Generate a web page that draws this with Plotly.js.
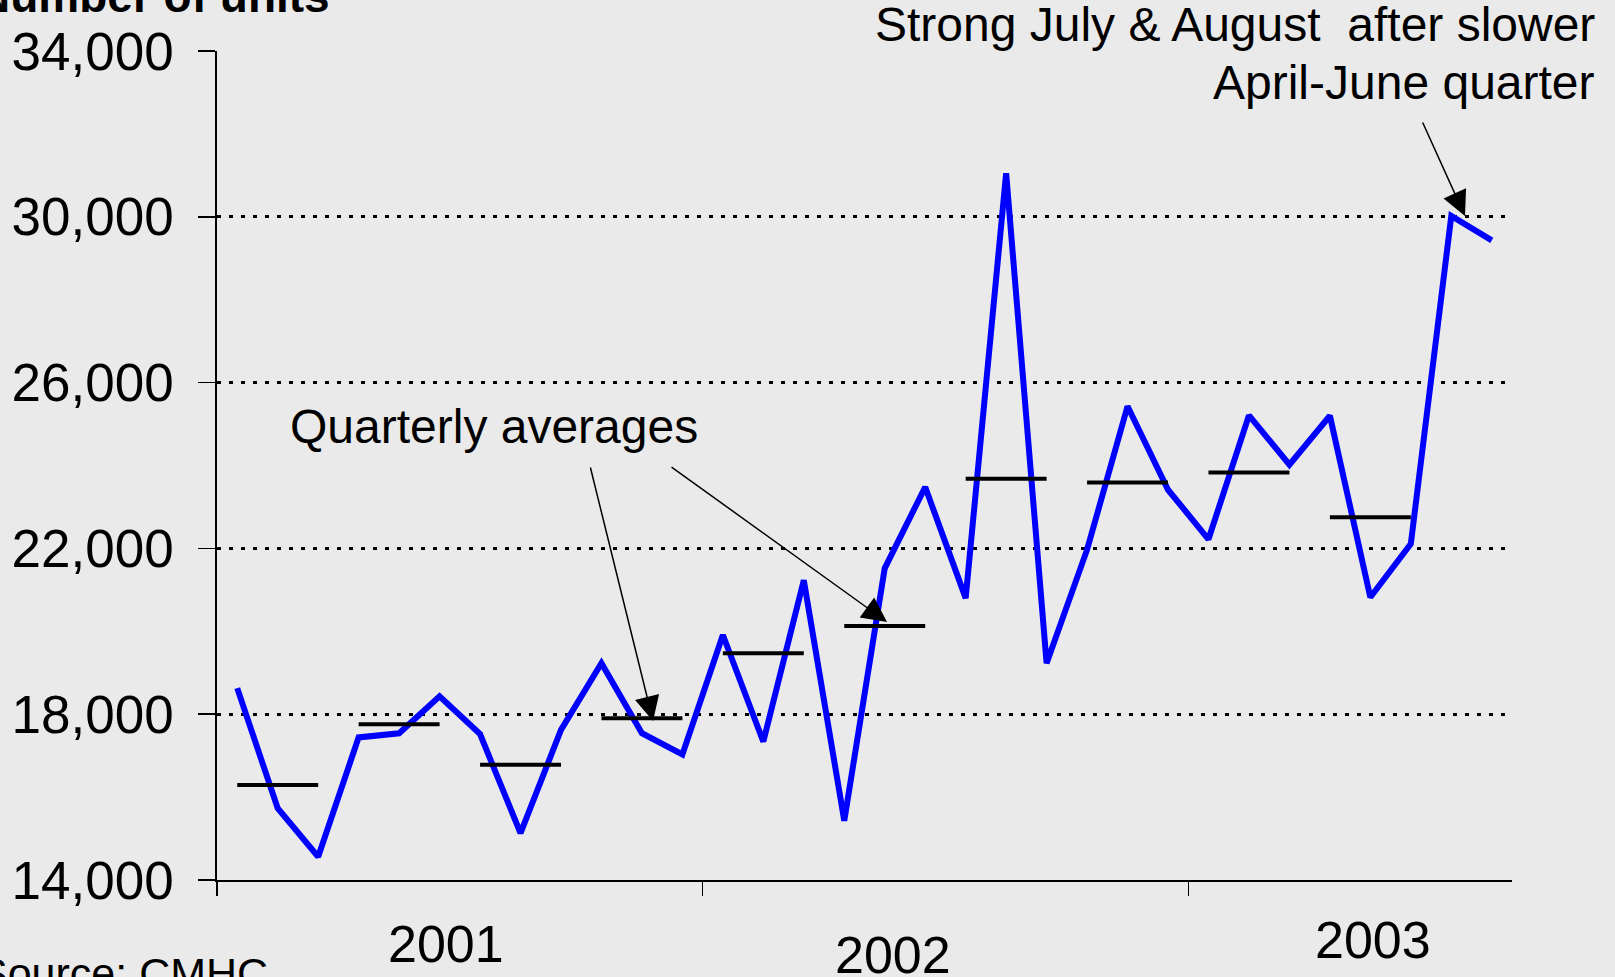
<!DOCTYPE html>
<html>
<head>
<meta charset="utf-8">
<script src="https://cdn.plot.ly/plotly-3.0.1.min.js"></script>
<style>
  html, body { margin: 0; padding: 0; background: #EAEAEA; }
  #chart { width: 1615px; height: 977px; }
</style>
</head>
<body>
<div id="chart"></div>
<script>
// Monthly categories (Jan 2001 - Aug 2003)
const months = [
  "Jan 2001","Feb 2001","Mar 2001","Apr 2001","May 2001","Jun 2001",
  "Jul 2001","Aug 2001","Sep 2001","Oct 2001","Nov 2001","Dec 2001",
  "Jan 2002","Feb 2002","Mar 2002","Apr 2002","May 2002","Jun 2002",
  "Jul 2002","Aug 2002","Sep 2002","Oct 2002","Nov 2002","Dec 2002",
  "Jan 2003","Feb 2003","Mar 2003","Apr 2003","May 2003","Jun 2003",
  "Jul 2003","Aug 2003"
];
// Housing starts, number of units
const starts = [
  18630, 15730, 14560, 17440, 17540, 18430,
  17520, 15130, 17620, 19230, 17540, 17030,
  19910, 17340, 21230, 15430, 21520, 23480,
  20800, 31050, 19230, 21970, 25430, 23415,
  22220, 25210, 24020, 25200, 20820, 22110,
  30020, 29430
];
// Quarterly averages
const quarters = ["Q1 2001","Q2 2001","Q3 2001","Q4 2001","Q1 2002","Q2 2002",
                  "Q3 2002","Q4 2002","Q1 2003","Q2 2003"];
const quarterAvg = [16290, 17760, 16780, 17900, 19470, 20130, 23680, 23590, 23830, 22750];

const yTicks = [14000, 18000, 22000, 26000, 30000, 34000];
const yearBoundaries = [-0.5, 11.5, 23.5];

const FONT = "Liberation Sans, Arial, Helvetica, sans-serif";

const xIdx = months.map((m, i) => i);

const qx = [], qy = [];
quarterAvg.forEach((v, q) => {
  qx.push(q * 3, q * 3 + 2, null);
  qy.push(v, v, null);
});

const traces = [
  {
    x: xIdx, y: starts, type: "scatter", mode: "lines",
    line: { color: "#0000FF", width: 6, shape: "linear" },
    text: months, hoverinfo: "text+y", showlegend: false
  },
  {
    x: qx, y: qy, type: "scatter", mode: "lines",
    line: { color: "#000000", width: 4 },
    connectgaps: false, hoverinfo: "y", showlegend: false
  }
];

const L = 217, R = 103, T = 51, B = 97;

const layout = {
  width: 1615, height: 977,
  margin: { l: L, r: R, t: T, b: B, pad: 0 },
  paper_bgcolor: "#EAEAEA",
  plot_bgcolor: "#EAEAEA",
  font: { family: FONT, color: "#000000" },
  showlegend: false,
  xaxis: {
    range: [-0.5, 31.5],
    showgrid: false, zeroline: false,
    showline: true, linecolor: "#000000", linewidth: 2,
    ticks: "outside", tickvals: yearBoundaries, ticktext: ["", "", ""],
    ticklen: 14, tickwidth: 1.5, tickcolor: "#000000",
    showticklabels: false, fixedrange: true
  },
  yaxis: {
    range: [14000, 34000],
    tickvals: yTicks, tickformat: ",",
    showgrid: true, gridcolor: "#000000", gridwidth: 3, griddash: "4px,8px",
    zeroline: false,
    showline: true, linecolor: "#000000", linewidth: 1.7,
    ticks: "outside", ticklen: 17, tickwidth: 1.5, tickcolor: "#000000",
    tickfont: { family: FONT, size: 53, color: "#000000" },
    ticklabelstandoff: 14,
    fixedrange: true
  },
  annotations: [
    { text: "<b>Number of units</b>", xref: "paper", yref: "paper",
      x: 0.0885, y: 1.0663, xanchor: "right", yanchor: "middle",
      showarrow: false, font: { family: FONT, size: 46, color: "#000" } },
    { text: "Source: CMHC", xref: "paper", yref: "paper",
      x: 0.041, y: -0.112, xanchor: "right", yanchor: "middle",
      showarrow: false, font: { family: FONT, size: 43, color: "#000" } },
    { text: "2001", xref: "paper", yref: "paper",
      x: 0.1768, y: -0.0772, xanchor: "center", yanchor: "middle",
      showarrow: false, font: { family: FONT, size: 52, color: "#000" } },
    { text: "2002", xref: "paper", yref: "paper",
      x: 0.522, y: -0.0905, xanchor: "center", yanchor: "middle",
      showarrow: false, font: { family: FONT, size: 52, color: "#000" } },
    { text: "2003", xref: "paper", yref: "paper",
      x: 0.8927, y: -0.0724, xanchor: "center", yanchor: "middle",
      showarrow: false, font: { family: FONT, size: 52, color: "#000" } },
    { text: "Quarterly averages", xref: "paper", yref: "paper",
      x: 0.0548, y: 0.5467, xanchor: "left", yanchor: "middle",
      showarrow: false, font: { family: FONT, size: 48, color: "#000" } },
    { text: "Strong July &amp; August &nbsp;after slower", xref: "paper", yref: "paper",
      x: 1.0655, y: 1.0316, xanchor: "right", yanchor: "middle",
      showarrow: false, font: { family: FONT, size: 48, color: "#000" } },
    { text: "April-June quarter", xref: "paper", yref: "paper",
      x: 1.0655, y: 0.9619, xanchor: "right", yanchor: "middle",
      showarrow: false, font: { family: FONT, size: 48, color: "#000" } },
    // arrows
    { text: "", xref: "paper", yref: "paper", x: 0.3367, y: 0.1918,
      ax: -63, ay: -255, showarrow: true, arrowhead: 2, arrowsize: 3.3,
      arrowwidth: 1.5, arrowcolor: "#000" },
    { text: "", xref: "paper", yref: "paper", x: 0.5174, y: 0.3112,
      ax: -217, ay: -156, showarrow: true, arrowhead: 2, arrowsize: 3.3,
      arrowwidth: 1.5, arrowcolor: "#000" },
    { text: "", xref: "paper", yref: "paper", x: 0.9637, y: 0.801,
      ax: -43, ay: -95, showarrow: true, arrowhead: 2, arrowsize: 3.3,
      arrowwidth: 1.5, arrowcolor: "#000" }
  ]
};

Plotly.newPlot("chart", traces, layout, { staticPlot: true, displayModeBar: false });
</script>
</body>
</html>
